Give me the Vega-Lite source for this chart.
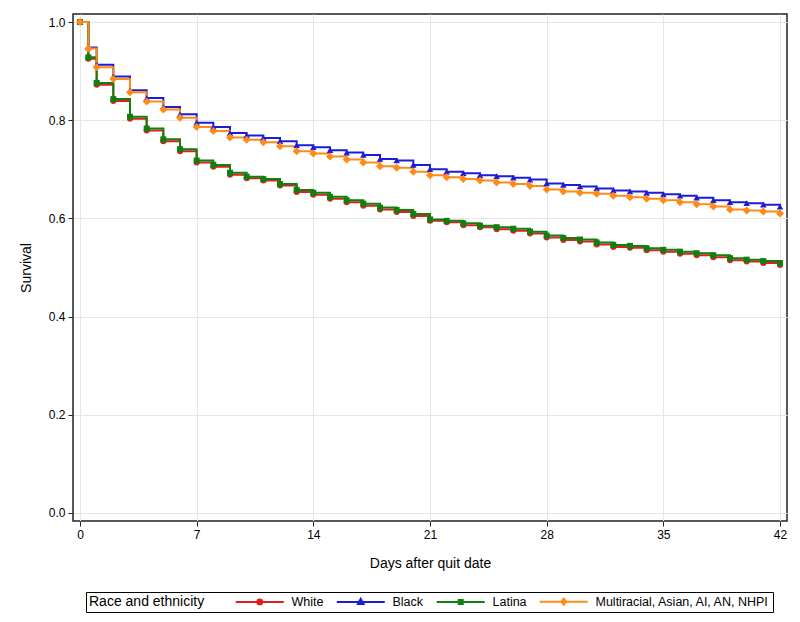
{
  "$schema": "https://vega.github.io/schema/vega-lite/v6.json",
  "width": 714,
  "height": 507,
  "autosize": "none",
  "padding": {"left": 73, "top": 14, "right": 13, "bottom": 101},
  "background": "white",
  "config": {
    "font": "Liberation Sans",
    "view": {"stroke": "#222222", "strokeWidth": 1.5},
    "axis": {
      "domain": false,
      "grid": true,
      "gridColor": "#e6e6e6",
      "gridWidth": 1,
      "tickColor": "#222222",
      "tickSize": 5,
      "tickWidth": 1,
      "labelColor": "#000000",
      "labelFontSize": 12,
      "labelPadding": 3,
      "titleColor": "#000000",
      "titleFontSize": 14,
      "titleFontWeight": "normal"
    },
    "legend": {
      "orient": "none",
      "legendX": 13,
      "legendY": 578,
      "direction": "horizontal",
      "titleOrient": "left",
      "titlePadding": 30,
      "titleFontSize": 14,
      "titleFontWeight": "normal",
      "titleColor": "#000000",
      "labelFontSize": 12.5,
      "labelColor": "#000000",
      "labelLimit": 300,
      "strokeColor": "#000000",
      "padding": 3,
      "symbolSize": 16,
      "symbolOffset": 18.5,
      "labelOffset": 25.5,
      "columnPadding": 8,
      "symbolStrokeWidth": 2
    }
  },
  "data": {
    "values": [
      {"day": 0, "White": 1, "Black": 1, "Latina": 1, "Multiracial, Asian, AI, AN, NHPI": 1},
      {"day": 0.5, "White": 0.925, "Black": 0.948, "Latina": 0.928, "Multiracial, Asian, AI, AN, NHPI": 0.946},
      {"day": 1, "White": 0.872, "Black": 0.913, "Latina": 0.876, "Multiracial, Asian, AI, AN, NHPI": 0.908},
      {"day": 2, "White": 0.839, "Black": 0.889, "Latina": 0.843, "Multiracial, Asian, AI, AN, NHPI": 0.884},
      {"day": 3, "White": 0.803, "Black": 0.861, "Latina": 0.807, "Multiracial, Asian, AI, AN, NHPI": 0.857},
      {"day": 4, "White": 0.779, "Black": 0.845, "Latina": 0.783, "Multiracial, Asian, AI, AN, NHPI": 0.838},
      {"day": 5, "White": 0.757, "Black": 0.827, "Latina": 0.761, "Multiracial, Asian, AI, AN, NHPI": 0.822},
      {"day": 6, "White": 0.737, "Black": 0.812, "Latina": 0.741, "Multiracial, Asian, AI, AN, NHPI": 0.805},
      {"day": 7, "White": 0.714, "Black": 0.795, "Latina": 0.718, "Multiracial, Asian, AI, AN, NHPI": 0.786},
      {"day": 8, "White": 0.705, "Black": 0.786, "Latina": 0.709, "Multiracial, Asian, AI, AN, NHPI": 0.778},
      {"day": 9, "White": 0.689, "Black": 0.774, "Latina": 0.693, "Multiracial, Asian, AI, AN, NHPI": 0.765},
      {"day": 10, "White": 0.682, "Black": 0.769, "Latina": 0.685, "Multiracial, Asian, AI, AN, NHPI": 0.760},
      {"day": 11, "White": 0.677, "Black": 0.764, "Latina": 0.680, "Multiracial, Asian, AI, AN, NHPI": 0.755},
      {"day": 12, "White": 0.667, "Black": 0.757, "Latina": 0.670, "Multiracial, Asian, AI, AN, NHPI": 0.747},
      {"day": 13, "White": 0.654, "Black": 0.749, "Latina": 0.658, "Multiracial, Asian, AI, AN, NHPI": 0.737},
      {"day": 14, "White": 0.648, "Black": 0.745, "Latina": 0.652, "Multiracial, Asian, AI, AN, NHPI": 0.732},
      {"day": 15, "White": 0.640, "Black": 0.739, "Latina": 0.644, "Multiracial, Asian, AI, AN, NHPI": 0.726},
      {"day": 16, "White": 0.633, "Black": 0.734, "Latina": 0.637, "Multiracial, Asian, AI, AN, NHPI": 0.720},
      {"day": 17, "White": 0.626, "Black": 0.729, "Latina": 0.630, "Multiracial, Asian, AI, AN, NHPI": 0.714},
      {"day": 18, "White": 0.618, "Black": 0.721, "Latina": 0.622, "Multiracial, Asian, AI, AN, NHPI": 0.706},
      {"day": 19, "White": 0.613, "Black": 0.718, "Latina": 0.617, "Multiracial, Asian, AI, AN, NHPI": 0.703},
      {"day": 20, "White": 0.605, "Black": 0.709, "Latina": 0.609, "Multiracial, Asian, AI, AN, NHPI": 0.695},
      {"day": 21, "White": 0.595, "Black": 0.700, "Latina": 0.598, "Multiracial, Asian, AI, AN, NHPI": 0.688},
      {"day": 22, "White": 0.592, "Black": 0.695, "Latina": 0.595, "Multiracial, Asian, AI, AN, NHPI": 0.684},
      {"day": 23, "White": 0.586, "Black": 0.692, "Latina": 0.590, "Multiracial, Asian, AI, AN, NHPI": 0.680},
      {"day": 24, "White": 0.582, "Black": 0.688, "Latina": 0.585, "Multiracial, Asian, AI, AN, NHPI": 0.677},
      {"day": 25, "White": 0.578, "Black": 0.686, "Latina": 0.582, "Multiracial, Asian, AI, AN, NHPI": 0.673},
      {"day": 26, "White": 0.575, "Black": 0.683, "Latina": 0.579, "Multiracial, Asian, AI, AN, NHPI": 0.670},
      {"day": 27, "White": 0.569, "Black": 0.679, "Latina": 0.573, "Multiracial, Asian, AI, AN, NHPI": 0.666},
      {"day": 28, "White": 0.561, "Black": 0.671, "Latina": 0.565, "Multiracial, Asian, AI, AN, NHPI": 0.659},
      {"day": 29, "White": 0.556, "Black": 0.668, "Latina": 0.560, "Multiracial, Asian, AI, AN, NHPI": 0.655},
      {"day": 30, "White": 0.553, "Black": 0.665, "Latina": 0.557, "Multiracial, Asian, AI, AN, NHPI": 0.652},
      {"day": 31, "White": 0.547, "Black": 0.661, "Latina": 0.551, "Multiracial, Asian, AI, AN, NHPI": 0.650},
      {"day": 32, "White": 0.542, "Black": 0.657, "Latina": 0.546, "Multiracial, Asian, AI, AN, NHPI": 0.646},
      {"day": 33, "White": 0.540, "Black": 0.655, "Latina": 0.544, "Multiracial, Asian, AI, AN, NHPI": 0.643},
      {"day": 34, "White": 0.535, "Black": 0.652, "Latina": 0.539, "Multiracial, Asian, AI, AN, NHPI": 0.640},
      {"day": 35, "White": 0.532, "Black": 0.649, "Latina": 0.536, "Multiracial, Asian, AI, AN, NHPI": 0.637},
      {"day": 36, "White": 0.528, "Black": 0.646, "Latina": 0.532, "Multiracial, Asian, AI, AN, NHPI": 0.633},
      {"day": 37, "White": 0.525, "Black": 0.642, "Latina": 0.529, "Multiracial, Asian, AI, AN, NHPI": 0.629},
      {"day": 38, "White": 0.521, "Black": 0.637, "Latina": 0.525, "Multiracial, Asian, AI, AN, NHPI": 0.624},
      {"day": 39, "White": 0.515, "Black": 0.633, "Latina": 0.519, "Multiracial, Asian, AI, AN, NHPI": 0.618},
      {"day": 40, "White": 0.512, "Black": 0.631, "Latina": 0.516, "Multiracial, Asian, AI, AN, NHPI": 0.616},
      {"day": 41, "White": 0.509, "Black": 0.628, "Latina": 0.513, "Multiracial, Asian, AI, AN, NHPI": 0.614},
      {"day": 42, "White": 0.505, "Black": 0.624, "Latina": 0.509, "Multiracial, Asian, AI, AN, NHPI": 0.610}
    ]
  },
  "transform": [
    {"fold": ["White", "Black", "Latina", "Multiracial, Asian, AI, AN, NHPI"], "as": ["group", "survival"]}
  ],
  "encoding": {
    "x": {
      "field": "day",
      "type": "quantitative",
      "title": "Days after quit date",
      "scale": {"domain": [-0.42, 42.42], "nice": false, "zero": false},
      "axis": {"values": [0, 7, 14, 21, 28, 35, 42], "titlePadding": 16}
    },
    "y": {
      "field": "survival",
      "type": "quantitative",
      "title": "Survival",
      "scale": {"domain": [-0.0163, 1.0163], "nice": false, "zero": false},
      "axis": {"values": [0, 0.2, 0.4, 0.6, 0.8, 1.0], "format": ".1f", "titlePadding": 15}
    },
    "color": {
      "field": "group",
      "type": "nominal",
      "title": "Race and ethnicity",
      "scale": {
        "domain": ["White", "Black", "Latina", "Multiracial, Asian, AI, AN, NHPI"],
        "range": ["#e01e1e", "#1c1cd8", "#0f800f", "#ff8a17"]
      },
      "legend": {
        "encode": {
          "symbols": {
            "update": {
              "shape": {"signal": "datum.value === 'White' ? 'M-12,0H12M-1.2,0A1.2,1.2,0,1,0,1.2,0A1.2,1.2,0,1,0,-1.2,0Z' : datum.value === 'Black' ? 'M-12,0H12M0,-1.5L1.4,1L-1.4,1Z' : datum.value === 'Latina' ? 'M-12,0H12M-1,-1H1V1H-1Z' : 'M-12,0H12M0,-1.5L1.2,0L0,1.5L-1.2,0Z'"},
              "size": {"value": 16},
              "strokeWidth": {"value": 2},
              "opacity": {"value": 1}
            }
          }
        }
      }
    }
  },
  "layer": [
    {
      "mark": {"type": "line", "interpolate": "step-after", "strokeWidth": 2}
    },
    {
      "mark": {"type": "point", "filled": true, "opacity": 1},
      "encoding": {
        "shape": {
          "condition": [
            {"test": "datum.group === 'White'", "value": "circle"},
            {"test": "datum.group === 'Black'", "value": "triangle-up"},
            {"test": "datum.group === 'Latina'", "value": "square"}
          ],
          "value": "diamond"
        },
        "size": {
          "condition": [
            {"test": "datum.group === 'White'", "value": 36},
            {"test": "datum.group === 'Black'", "value": 42},
            {"test": "datum.group === 'Latina'", "value": 36}
          ],
          "value": 64
        }
      }
    }
  ]
}
